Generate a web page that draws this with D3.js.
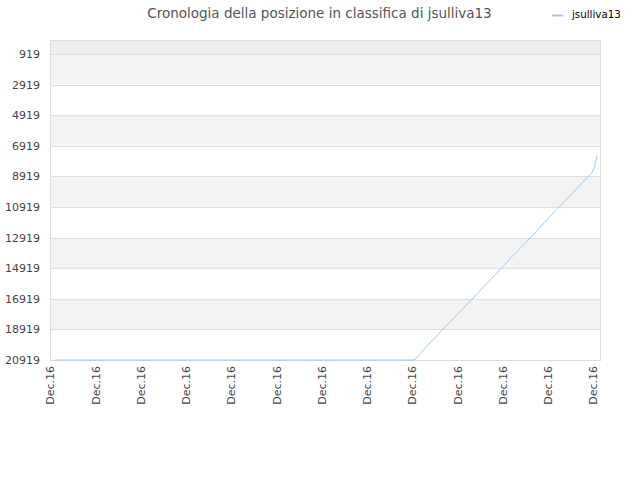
<!DOCTYPE html>
<html>
<head>
<meta charset="utf-8">
<script src="https://cdn.jsdelivr.net/npm/d3@7"></script>
<style>
  html, body { margin: 0; padding: 0; background: #fff; }
  svg { display: block; }
</style>
</head>
<body>
<svg id="chart" width="640" height="480"></svg>
<script>
// ---- data ----
const titleText = "Cronologia della posizione in classifica di jsulliva13";
const seriesName = "jsulliva13";
const tickLabels = ["Dec.16","Dec.16","Dec.16","Dec.16","Dec.16","Dec.16","Dec.16","Dec.16","Dec.16","Dec.16","Dec.16","Dec.16","Dec.16"];
const yTicks = [919, 2919, 4919, 6919, 8919, 10919, 12919, 14919, 16919, 18919, 20919];
// time position (in tick units) and rank
const times = [0.11, 8.066, 8.236, 8.634, 9.023, 9.414, 9.819, 10.21, 10.608, 10.977, 11.381, 11.772, 11.985, 12.029, 12.095];
const ranks = [20919, 20919, 20311, 19068, 17866, 16669, 15408, 14166, 12963, 11767, 10525, 9302, 8649, 8283, 7584];

// ---- layout ----
const svg = d3.select("#chart");
const mLeft = 50, mRight = 600, mTop = 40, mBottom = 360;

const x = d3.scaleLinear().domain([0, 12.155]).range([mLeft, mRight]);
const y = d3.scaleLinear().domain([4, 20919]).range([mTop, mBottom]);

// bands
const bandEdges = [4].concat(yTicks);
for (let i = 0; i < bandEdges.length - 1; i++) {
  let fill;
  if (i === 0) fill = "#eeeeee";
  else fill = (i % 2 === 1) ? "#f3f3f3" : "#ffffff";
  svg.append("rect")
    .attr("x", mLeft).attr("width", mRight - mLeft)
    .attr("y", y(bandEdges[i])).attr("height", y(bandEdges[i + 1]) - y(bandEdges[i]))
    .attr("fill", fill);
}

// grid lines
svg.append("g").selectAll("line").data(yTicks).join("line")
  .attr("x1", mLeft).attr("x2", mRight)
  .attr("y1", d => Math.round(y(d)) + 0.5).attr("y2", d => Math.round(y(d)) + 0.5)
  .attr("stroke", "#dddddd").attr("stroke-width", 1);

// frame
svg.append("rect")
  .attr("x", mLeft + 0.5).attr("y", mTop + 0.5)
  .attr("width", mRight - mLeft).attr("height", mBottom - mTop)
  .attr("fill", "none").attr("stroke", "#dddddd");

// y axis labels
const yAxis = d3.axisLeft(y).tickValues(yTicks).tickSize(0).tickPadding(10).tickFormat(d3.format("d"));
const gy = svg.append("g").attr("transform", `translate(${mLeft},0)`).call(yAxis);
gy.select(".domain").remove();
gy.selectAll("text").attr("font-family", "DejaVu Sans").attr("font-size", 11).attr("fill", "#444");

// x axis labels
const xTickVals = tickLabels.map((d, i) => i);
const xAxis = d3.axisBottom(x).tickValues(xTickVals).tickSize(0).tickFormat((d, i) => tickLabels[i]);
const gx = svg.append("g").attr("transform", `translate(0,${mBottom})`).call(xAxis);
gx.select(".domain").remove();
gx.selectAll("text")
  .attr("font-family", "DejaVu Sans").attr("font-size", 11).attr("fill", "#444")
  .attr("text-anchor", "end")
  .attr("transform", "rotate(-90)")
  .attr("x", -6).attr("y", 0).attr("dy", "0.35em");

// line
const pts = times.map((t, i) => [t, ranks[i]]);
svg.append("path")
  .datum(pts)
  .attr("fill", "none")
  .attr("stroke", "#9ec8f2")
  .attr("stroke-width", 1)
  .attr("d", d3.line().x(d => x(d[0])).y(d => y(d[1])));

// title
svg.append("text")
  .attr("x", 319.5).attr("y", 17.5)
  .attr("text-anchor", "middle")
  .attr("font-family", "DejaVu Sans").attr("font-size", 13.5).attr("fill", "#555")
  .text(titleText);

// legend
svg.append("line")
  .attr("x1", 552).attr("x2", 563).attr("y1", 15.5).attr("y2", 15.5)
  .attr("stroke", "#9ec8f2").attr("stroke-width", 2);
svg.append("text")
  .attr("x", 572).attr("y", 18.3)
  .attr("font-family", "DejaVu Sans").attr("font-size", 10.3).attr("fill", "#000")
  .text(seriesName);
</script>
</body>
</html>
